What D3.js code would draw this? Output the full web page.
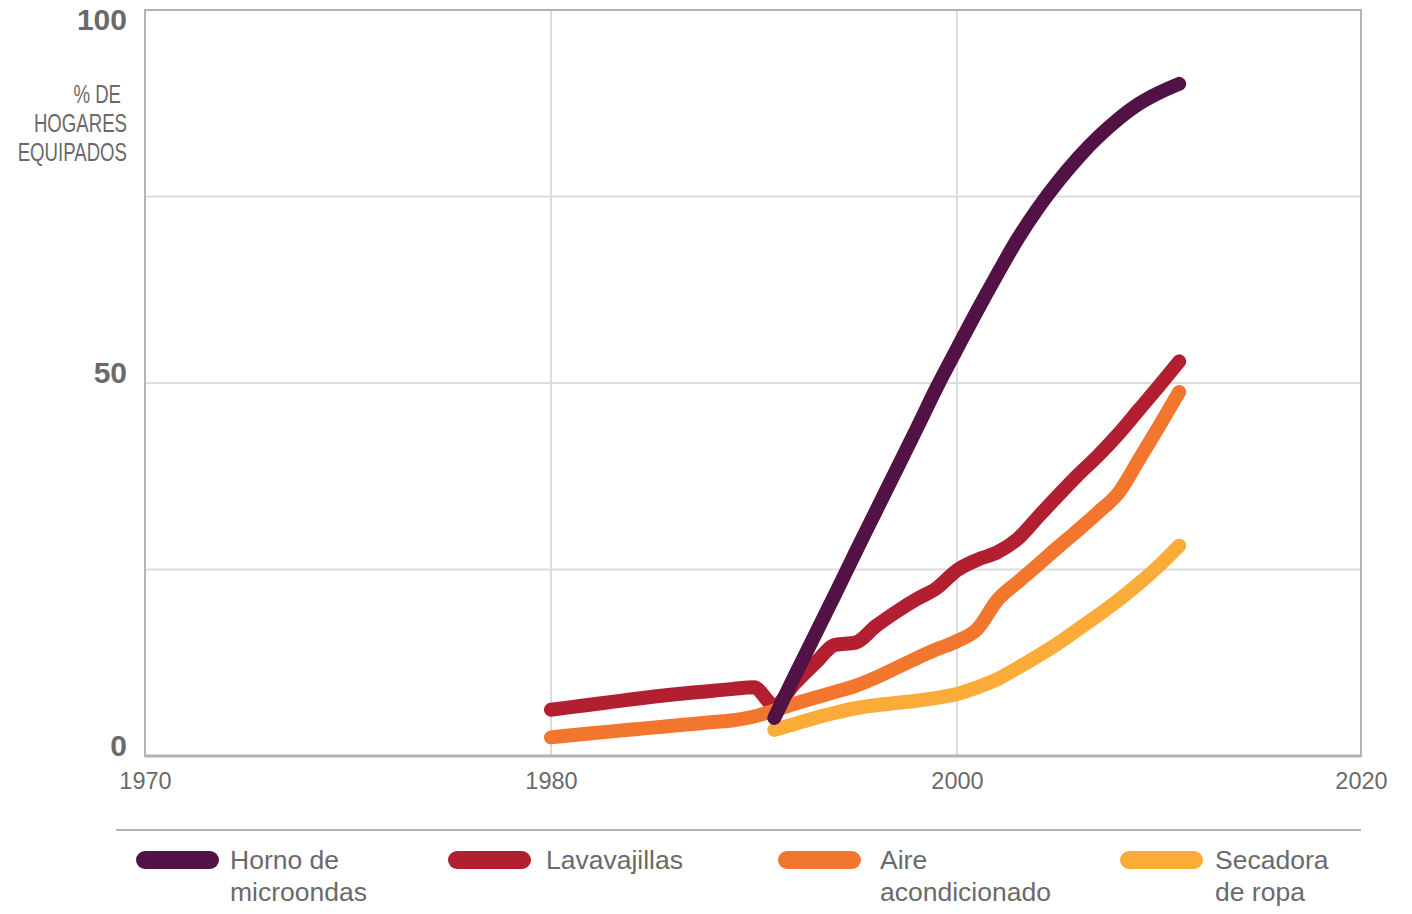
<!DOCTYPE html>
<html>
<head>
<meta charset="utf-8">
<script src="https://cdn.jsdelivr.net/npm/d3@7"></script>
<style>
  html, body { margin: 0; padding: 0; background: #fff; }
  svg { display: block; }
  text { font-family: "Liberation Sans", Arial, sans-serif; }
</style>
</head>
<body>
<svg id="chart" width="1412" height="914"></svg>
<script>
// Años y porcentaje de hogares equipados por aparato
const yearsDish = d3.range(1980, 2012);
const dishwasher = [6.2, 6.55, 6.9, 7.25, 7.6, 7.95, 8.25, 8.5, 8.75, 9.0, 9.2, 6.8,
  9.7, 12.4, 14.9, 15.2, 17.4, 19.3, 21.0, 22.5, 24.9, 26.3, 27.3, 29.1,
  32.0, 34.9, 37.7, 40.3, 43.2, 46.4, 49.6, 52.9];

const yearsAir = d3.range(1980, 2012);
const airCon = [2.5, 2.77, 3.04, 3.3, 3.55, 3.8, 4.05, 4.3, 4.55, 4.8, 5.3, 6.1,
  7.0, 7.8, 8.6, 9.4, 10.5, 11.8, 13.1, 14.3, 15.4, 17.0, 20.9, 23.3,
  25.6, 28.0, 30.3, 32.7, 35.3, 39.7, 44.2, 48.8];

const yearsDryer = d3.range(1991, 2012);
const dryer = [3.5, 4.3, 5.1, 5.8, 6.4, 6.8, 7.1, 7.4, 7.8, 8.3, 9.2, 10.3,
  11.8, 13.4, 15.1, 17.0, 18.9, 20.9, 23.1, 25.5, 28.2];

const yearsMicro = d3.range(1991, 2012);
const microwave = [5.1, 10.7, 16.2, 21.7, 27.3, 32.8, 38.3, 43.8, 49.4, 54.6,
  59.7, 64.6, 69.3, 73.4, 77.0, 80.2, 83.0, 85.4, 87.4, 88.9, 90.1];

const xTicks = [1970, 1980, 2000, 2020];
const yTicks = [0, 50, 100];
const yGrid = [25, 50, 75];
const yTitle = ["% DE", "HOGARES", "EQUIPADOS"];

const legendLabels = [["Horno de", "microondas"], ["Lavavajillas"], ["Aire", "acondicionado"], ["Secadora", "de ropa"]];

const colors = {
  micro: "#521246",
  dish: "#b21f30",
  air: "#f2762d",
  dryer: "#fbab38"
};

const svg = d3.select("#chart");

// Eje X con tramos iguales entre 1970, 1980, 2000 y 2020
const x = d3.scaleLinear().domain(xTicks).range([145, 551, 957, 1361]);
const y = d3.scaleLinear().domain([0, 100]).range([756, 10]);

const gridColor = "#dcdcdc";
const frameColor = "#b3b3b5";
const textColor = "#6a6a6a";

// Rejilla
svg.append("g").selectAll("line").data(yGrid).join("line")
  .attr("x1", x(1970)).attr("x2", x(2020))
  .attr("y1", d => y(d)).attr("y2", d => y(d))
  .attr("stroke", gridColor).attr("stroke-width", 2);

svg.append("g").selectAll("line").data([1980, 2000]).join("line")
  .attr("x1", d => x(d)).attr("x2", d => x(d))
  .attr("y1", y(0)).attr("y2", y(100))
  .attr("stroke", gridColor).attr("stroke-width", 2);

// Marco
svg.append("rect")
  .attr("x", x(1970)).attr("y", y(100))
  .attr("width", x(2020) - x(1970)).attr("height", y(0) - y(100))
  .attr("fill", "none").attr("stroke", frameColor).attr("stroke-width", 2);
svg.append("line")
  .attr("x1", x(1970)).attr("x2", x(2020)).attr("y1", y(0)).attr("y2", y(0))
  .attr("stroke", frameColor).attr("stroke-width", 3);

// Etiquetas del eje Y
const yAxis = d3.axisLeft(y).tickValues(yTicks).tickSize(0).tickPadding(18);
const gy = svg.append("g").attr("transform", `translate(${x(1970)},0)`).call(yAxis);
gy.select(".domain").remove();
gy.selectAll("text")
  .attr("fill", textColor)
  .style("font-size", "30px")
  .style("font-weight", "bold")
  .attr("dy", d => d === 100 ? "0.64em" : "-0.02em");

// Etiquetas del eje X
const xAxis = d3.axisBottom(x).tickValues(xTicks).tickFormat(d3.format("d")).tickSize(0).tickPadding(16);
const gx = svg.append("g").attr("transform", `translate(0,${y(0)})`).call(xAxis);
gx.select(".domain").remove();
gx.selectAll("text")
  .attr("fill", textColor)
  .style("font-size", "23.5px");

// Título del eje Y (estrechado)
svg.append("g")
  .attr("transform", "translate(127,0) scale(0.745,1)")
  .selectAll("text").data(yTitle).join("text")
  .attr("x", (d, i) => i === 0 ? -8 : 0)
  .attr("y", (d, i) => 103 + i * 29)
  .attr("text-anchor", "end")
  .attr("fill", textColor)
  .style("font-size", "25px")
  .text(d => d);

// Series
const line = d3.line()
  .x(d => x(d[0]))
  .y(d => y(d[1]))
  .curve(d3.curveMonotoneX);

const series = [
  { key: "dish", pts: d3.zip(yearsDish, dishwasher) },
  { key: "air", pts: d3.zip(yearsAir, airCon) },
  { key: "dryer", pts: d3.zip(yearsDryer, dryer) },
  { key: "micro", pts: d3.zip(yearsMicro, microwave) }
];

svg.append("g").selectAll("path").data(series).join("path")
  .attr("d", d => line(d.pts))
  .attr("fill", "none")
  .attr("stroke", d => colors[d.key])
  .attr("stroke-width", 14)
  .attr("stroke-linecap", "round")
  .attr("stroke-linejoin", "round");

// Leyenda
svg.append("line")
  .attr("x1", 116).attr("x2", 1361).attr("y1", 830).attr("y2", 830)
  .attr("stroke", "#9a9a9a").attr("stroke-width", 1.5);

const legendKeys = ["micro", "dish", "air", "dryer"];
const legendX = [136, 448, 778, 1120];
const legendTextDx = [94, 98, 102, 95];
const lg = svg.append("g").selectAll("g").data(legendKeys).join("g")
  .attr("transform", (d, i) => `translate(${legendX[i]},851)`);

lg.append("rect")
  .attr("width", 83).attr("height", 18).attr("rx", 9)
  .attr("fill", d => colors[d]);

lg.each(function(d, i) {
  const t = d3.select(this).append("text")
    .attr("fill", textColor)
    .style("font-size", "26.5px");
  t.selectAll("tspan").data(legendLabels[i]).join("tspan")
    .attr("x", legendTextDx[i])
    .attr("y", (s, j) => 18 + j * 32)
    .text(s => s);
});
</script>
</body>
</html>
